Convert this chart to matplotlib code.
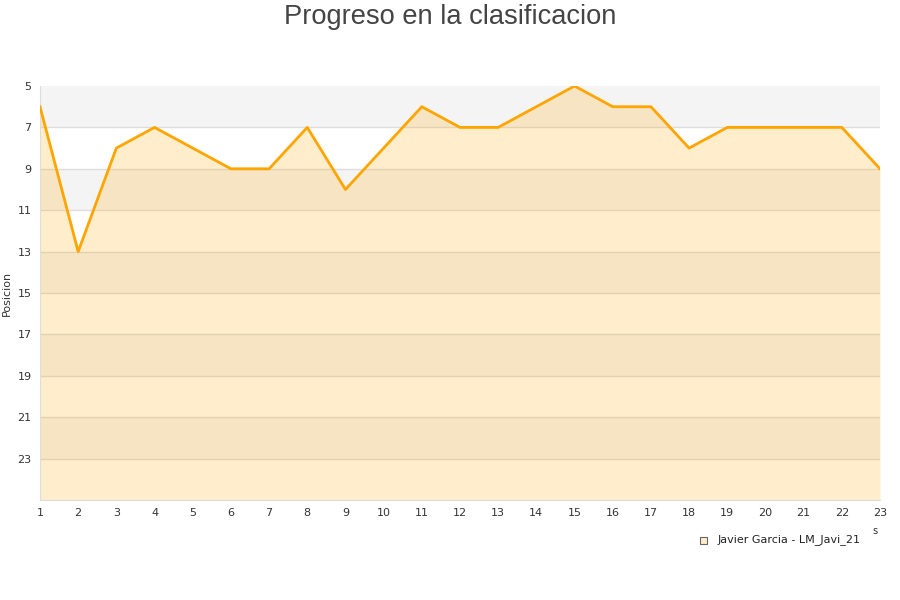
import matplotlib
matplotlib.use('Agg')
import matplotlib.pyplot as plt
from matplotlib.patches import Rectangle

jornadas = list(range(1, 24))
posicion = [6, 13, 8, 7, 8, 9, 9, 7, 10, 8, 6, 7, 7, 6, 5, 6, 6, 8, 7, 7, 7, 7, 9]
y_ticks = [5, 7, 9, 11, 13, 15, 17, 19, 21, 23]
serie = 'Javier Garcia - LM_Javi_21'

fig = plt.figure(figsize=(9, 6), dpi=100)
ax = fig.add_axes([40/900, 1 - 500/600, 840/900, 414/600])

# alternating bands
for i, y0 in enumerate(range(5, 25, 2)):
    if i % 2 == 0:
        ax.axhspan(y0, y0 + 2, color='#f4f4f4', zorder=0, lw=0)
for t in y_ticks[1:]:
    ax.axhline(t, color='#dddddd', lw=1, zorder=1)

ax.fill_between(jornadas, posicion, 25, color='#ffa500', alpha=0.2, lw=0, zorder=2)
ax.plot(jornadas, posicion, color='#ffa500', lw=2, zorder=3)

ax.set_xlim(1, 23)
ax.set_ylim(25, 5)
ax.set_xticks(jornadas)
ax.set_yticks(y_ticks)
ax.tick_params(length=0, labelsize=8, colors='#333333', pad=6)
for s in ['top', 'right']:
    ax.spines[s].set_visible(False)
for s in ['left', 'bottom']:
    ax.spines[s].set_color('#dddddd')
ax.set_ylabel('Posicion', fontsize=8, color='#333333', labelpad=4)

fig.text(0.5, 1 - 17/600, 'Progreso en la clasificacion', ha='center', va='center',
         fontsize=19.6, color='#444444', family='Liberation Sans')
fig.text(875/900, 1 - 531/600, 's', ha='center', va='center', fontsize=7, color='#333333')

fig.patches.append(Rectangle((700/900, 1 - 544/600), 7/900, 7/600, transform=fig.transFigure,
                             facecolor='#ffedcc', edgecolor='#666666', lw=0.8))
fig.text(718/900, 1 - 540/600, serie, ha='left', va='center', fontsize=8, color='#222222')

fig.savefig('out.png', dpi=100)
